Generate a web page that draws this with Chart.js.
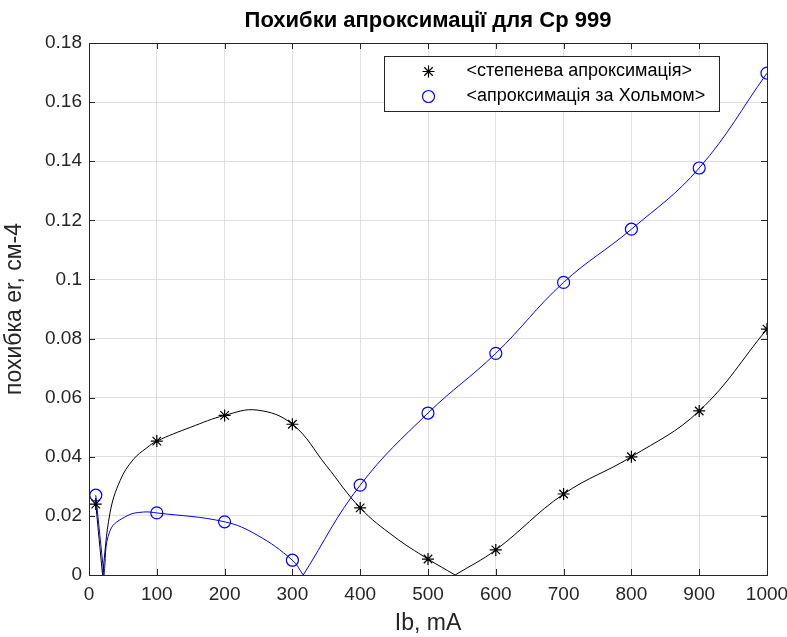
<!DOCTYPE html>
<html>
<head>
<meta charset="utf-8">
<script src="https://cdn.jsdelivr.net/npm/chart.js@4/dist/chart.umd.min.js"></script>
<style>
    html, body { margin: 0; padding: 0; background: #fff; }
    #wrap { width: 787px; height: 637px; }
</style>
</head>
<body>
<div id="wrap"><canvas id="chart"></canvas></div>
<script>
(function() {
    'use strict';

    // measured points
    const currents = [10, 100, 200, 300, 400, 500, 600, 700, 800, 900, 1000];
    const powerErr = [0.024, 0.0453, 0.054, 0.051, 0.0227, 0.0054, 0.0085, 0.0274, 0.040, 0.0555, 0.0832];
    const holmErr = [0.027, 0.021, 0.018, 0.005, 0.0304, 0.0548, 0.075, 0.099, 0.117, 0.1377, 0.1698];

    // smooth curves (zero points doubled to keep the sharp dip)
    const powerCurveX = [10, 20, 20, 31, 46, 65, 85, 100, 150, 200, 248, 300, 350, 400, 450, 500, 540, 540, 600, 700, 800, 900, 1000];
    const powerCurveY = [0.024, 0, 0, 0.021, 0.032, 0.039, 0.043, 0.0453, 0.050, 0.054, 0.0558, 0.051, 0.037, 0.0227, 0.013, 0.0054, 0, 0, 0.0085, 0.0274, 0.040, 0.0555, 0.0832];
    const holmCurveX = [10, 22, 22, 31, 56, 80, 100, 200, 248, 300, 316, 316, 400, 500, 600, 700, 800, 900, 1000];
    const holmCurveY = [0.027, 0, 0, 0.015, 0.020, 0.0213, 0.021, 0.018, 0.0135, 0.005, 0, 0, 0.0304, 0.0548, 0.075, 0.099, 0.117, 0.1377, 0.1698];

    const xTicks = [0, 100, 200, 300, 400, 500, 600, 700, 800, 900, 1000];
    const yTicks = [0, 0.02, 0.04, 0.06, 0.08, 0.1, 0.12, 0.14, 0.16, 0.18];

    const labels = ['<степенева апроксимація>', '<апроксимація за Хольмом>'];
    const FONT = '"Liberation Sans", Arial, Helvetica, sans-serif';
    const AXIS = '#262626';

    function pairs(xs, ys) {
        return xs.map((x, i) => ({ x: x, y: ys[i] }));
    }

    // frame, inner ticks and legend box, MATLAB style
    const matlabBox = {
        id: 'matlabBox',
        afterDatasetsDraw(chart) {
            const ctx = chart.ctx;
            const a = chart.chartArea;
            const xs = chart.scales.x, ys = chart.scales.y;
            ctx.save();
            ctx.strokeStyle = AXIS;
            ctx.lineWidth = 1;
            ctx.beginPath();
            xTicks.forEach(v => {
                const px = Math.round(xs.getPixelForValue(v)) + 0.5;
                ctx.moveTo(px, a.bottom); ctx.lineTo(px, a.bottom - 6);
                ctx.moveTo(px, a.top); ctx.lineTo(px, a.top + 6);
            });
            yTicks.forEach(v => {
                const py = Math.round(ys.getPixelForValue(v)) + 0.5;
                ctx.moveTo(a.left, py); ctx.lineTo(a.left + 6, py);
                ctx.moveTo(a.right, py); ctx.lineTo(a.right - 6, py);
            });
            ctx.stroke();
            ctx.strokeRect(Math.round(a.left) + 0.5, Math.round(a.top) + 0.5,
                Math.round(a.right - a.left), Math.round(a.bottom - a.top));

            // legend
            ctx.font = '18px ' + FONT;
            const tw = Math.max(...labels.map(l => ctx.measureText(l).width));
            const w = Math.round(tw + 96), h = 55;
            const right = Math.round(a.right) - 48 + 0.5, top = Math.round(a.top) + 13.5;
            const left = right - w;
            ctx.fillStyle = '#fff';
            ctx.fillRect(left, top, w, h);
            ctx.strokeStyle = AXIS;
            ctx.strokeRect(left, top, w, h);
            const markers = [chart.data.datasets[1], chart.data.datasets[3]];
            markers.forEach((ds, i) => {
                const cy = top + 15 + i * 25;
                ctx.strokeStyle = ds.pointBorderColor;
                ctx.fillStyle = ds.pointBackgroundColor;
                ctx.lineWidth = 1.2;
                Chart.helpers.drawPoint(ctx, {
                    pointStyle: ds.pointStyle, radius: 6, borderWidth: 1.2
                }, left + 44, cy);
                ctx.fillStyle = '#000';
                ctx.textBaseline = 'middle';
                ctx.fillText(ds.label, left + 82, cy);
            });
            ctx.restore();
        }
    };

    const ctx = document.getElementById('chart');
    new Chart(ctx.getContext('2d'), {
        type: 'line',
        data: {
            datasets: [{
                data: pairs(powerCurveX, powerCurveY),
                borderColor: '#000',
                borderWidth: 1,
                pointRadius: 0,
                tension: 0.4
            }, {
                label: labels[0],
                data: pairs(currents, powerErr),
                showLine: false,
                pointStyle: 'star',
                pointRadius: 6,
                pointBorderWidth: 1.2,
                pointBorderColor: '#000',
                pointBackgroundColor: '#000'
            }, {
                data: pairs(holmCurveX, holmCurveY),
                borderColor: '#0000ff',
                borderWidth: 1,
                pointRadius: 0,
                tension: 0.4
            }, {
                label: labels[1],
                data: pairs(currents, holmErr),
                showLine: false,
                pointStyle: 'circle',
                pointRadius: 6,
                pointBorderWidth: 1.2,
                pointBorderColor: '#0000ff',
                pointBackgroundColor: 'rgba(0,0,0,0)'
            }]
        },
        options: {
            responsive: true,
            maintainAspectRatio: false,
            animation: false,
            layout: { padding: 0 },
            plugins: {
                legend: { display: false },
                tooltip: { enabled: false },
                title: {
                    display: true,
                    fullSize: false,
                    text: 'Похибки апроксимації для Ср 999',
                    color: '#000',
                    font: { family: FONT, size: 22, weight: 'bold' },
                    padding: { top: 8, bottom: 8.6 }
                }
            },
            scales: {
                x: {
                    type: 'linear',
                    min: 0, max: 1000,
                    afterBuildTicks: s => { s.ticks = xTicks.map(v => ({ value: v })); },
                    afterFit: s => { s.height = 62; s.paddingRight = 20; s.paddingLeft = 0; },
                    grid: { color: '#dfdfdf', drawTicks: false },
                    border: { display: false },
                    ticks: {
                        color: AXIS, padding: 8, font: { family: FONT, size: 19 },
                        callback: v => String(v)
                    },
                    title: {
                        display: true, text: 'Ib, mA', color: AXIS,
                        font: { family: FONT, size: 23 }, padding: { top: 0, bottom: 0 }
                    }
                },
                y: {
                    min: 0, max: 0.18,
                    afterBuildTicks: s => { s.ticks = yTicks.map(v => ({ value: v })); },
                    afterFit: s => { s.width = 89; },
                    grid: { color: '#dfdfdf', drawTicks: false },
                    border: { display: false },
                    ticks: {
                        color: AXIS, padding: 7, font: { family: FONT, size: 19 },
                        callback: v => String(parseFloat(v.toFixed(2)))
                    },
                    title: {
                        display: true, text: 'похибка er, см-4', color: AXIS,
                        font: { family: FONT, size: 23 }, padding: { top: 1, bottom: 0 }
                    }
                }
            }
        },
        plugins: [matlabBox]
    });
})();
</script>
</body>
</html>
